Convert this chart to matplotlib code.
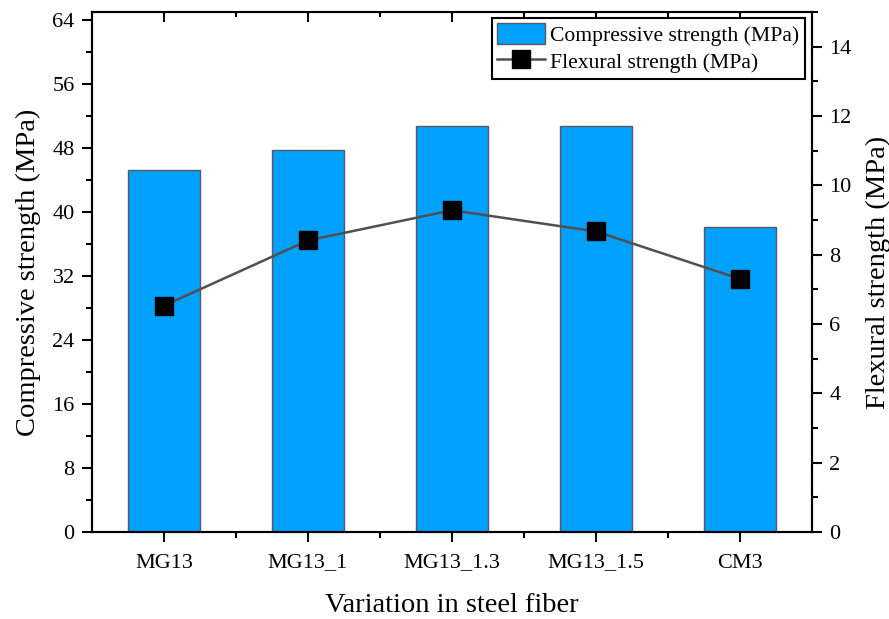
import matplotlib
matplotlib.use("Agg")
import matplotlib.pyplot as plt
from matplotlib.ticker import MultipleLocator, FixedLocator
from matplotlib.patches import Patch
from matplotlib.lines import Line2D

plt.rcParams['font.family'] = ['Liberation Serif', 'DejaVu Serif']

# Mix designs and measured strengths
mixes = ["MG13", "MG13_1", "MG13_1.3", "MG13_1.5", "CM3"]
compressive = [45.25, 47.7, 50.75, 50.75, 38.1]
flexural = [6.53, 8.41, 9.28, 8.67, 7.30]

bar_color = "#00A0FF"
line_color = "#505050"

fig = plt.figure(figsize=(8.89, 6.19), dpi=100)
ax = fig.add_axes([92 / 889, 1 - 532 / 619, 720 / 889, 520 / 619])
ax2 = ax.twinx()

x = list(range(len(mixes)))
ax.bar(x, compressive, width=0.5, color=bar_color, edgecolor="#5a5a5a",
       linewidth=1.0, zorder=2)
ax2.plot(x, flexural, color=line_color, linewidth=1.8, marker="s",
         markersize=13.5, markerfacecolor="black", markeredgecolor="black",
         zorder=3)

ax.set_xlim(-0.5, len(mixes) - 0.5)
ax.set_ylim(0, 65)
ax2.set_ylim(0, 15)

ax.set_xticks(x)
ax.set_xticklabels(mixes)
ax.xaxis.set_minor_locator(FixedLocator([i + 0.5 for i in range(len(mixes) - 1)]))
ax.yaxis.set_major_locator(MultipleLocator(8))
ax.yaxis.set_minor_locator(MultipleLocator(4))
ax2.yaxis.set_major_locator(MultipleLocator(2))
ax2.yaxis.set_minor_locator(MultipleLocator(1))

lw = 1.5
for spine in list(ax.spines.values()) + list(ax2.spines.values()):
    spine.set_linewidth(lw)

ax.tick_params(axis="both", which="major", labelsize=16, width=lw,
               length=7.5, direction="out", pad=5)
ax.tick_params(axis="x", which="major", pad=8)
ax.tick_params(axis="both", which="minor", width=lw, length=4, direction="out")
ax.tick_params(axis="x", which="both", top=True)
ax.tick_params(axis="y", which="both", right=False)
ax2.tick_params(axis="y", which="major", labelsize=16, width=lw, length=7.5,
                direction="out", pad=5)
ax2.tick_params(axis="y", which="minor", width=lw, length=4, direction="out")

# top ticks point into the plot
for t in ax.xaxis.get_major_ticks():
    t.tick2line.set_marker(3)
    t.tick2line.set_markersize(7.5)
for t in ax.xaxis.get_minor_ticks():
    t.tick2line.set_marker(3)
    t.tick2line.set_markersize(3.5)

ax.set_xlabel("Variation in steel fiber", fontsize=20.5, labelpad=15)
ax.set_ylabel("Compressive strength (MPa)", fontsize=20.5, labelpad=8)
ax2.set_ylabel("Flexural strength (MPa)", fontsize=20.5, labelpad=10)

handles = [
    Patch(facecolor=bar_color, edgecolor="#5a5a5a", linewidth=1.0),
    Line2D([], [], color=line_color, linewidth=1.8, marker="s",
           markersize=13.5, markerfacecolor="black", markeredgecolor="black"),
]
labels = ["Compressive strength (MPa)", "Flexural strength (MPa)"]
leg = ax2.legend(handles, labels, loc="upper right",
                 bbox_to_anchor=(805 / 889, 1 - 18 / 619),
                 bbox_transform=fig.transFigure, borderaxespad=0,
                 fontsize=15.6, fancybox=False, framealpha=1, edgecolor="black",
                 handlelength=2.2, handleheight=1.1, handletextpad=0.25,
                 borderpad=0.25, labelspacing=0.2)
leg.get_frame().set_linewidth(1.5)

fig.savefig("out.png", dpi=100)
